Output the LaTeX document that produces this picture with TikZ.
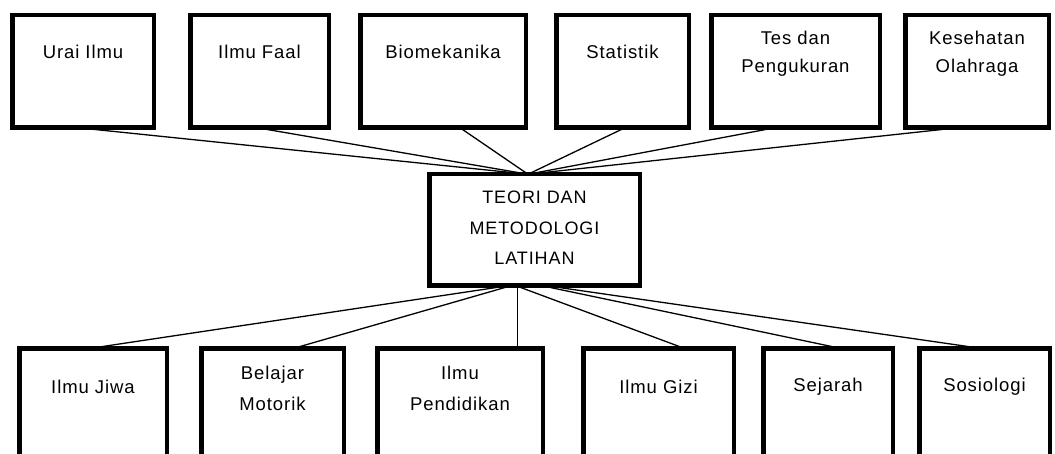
\documentclass[tikz,border=0pt]{standalone}
\usepackage{fontspec}
\setmainfont{Liberation Sans}[LetterSpace=5]
\begin{document}
\begin{tikzpicture}[x=1pt,y=-1pt,
  box/.style={draw=black,line width=4.5pt,rectangle,inner sep=0pt,outer sep=0pt},
  topbox/.style={box,minimum height=112.5pt},
  botbox/.style={box,minimum height=119.5pt},
  lbl/.style={align=center,inner sep=0pt,text=black,font=\fontsize{18.5}{28}\selectfont},
  clbl/.style={lbl,font=\fontsize{18}{30.5}\selectfont},
  blbl/.style={lbl,font=\fontsize{18.5}{31}\selectfont},
  link/.style={draw=black,line width=1.3pt}]
\useasboundingbox (0,0) rectangle (1055,454);
\clip (0,0) rectangle (1055,454);
% top row
\node[topbox,minimum width=141.5pt] (u1) at (83,71.5) {};
\node[topbox,minimum width=138.5pt] (u2) at (259.5,71.5) {};
\node[topbox,minimum width=165.5pt] (u3) at (443,71.5) {};
\node[topbox,minimum width=132.5pt] (u4) at (622.5,71.5) {};
\node[topbox,minimum width=168.5pt] (u5) at (795.5,71.5) {};
\node[topbox,minimum width=143.5pt] (u6) at (977,71.5) {};
\node[lbl] (tu1) at (83,52) {Urai Ilmu};
\node[lbl] (tu2) at (259.5,52) {Ilmu Faal};
\node[lbl] (tu3) at (443,52) {Biomekanika};
\node[lbl] (tu4) at (622.5,52) {Statistik};
\node[lbl] (tu5) at (795.5,54) {Tes dan\\Pengukuran};
\node[lbl] (tu6) at (977,54) {Kesehatan\\Olahraga};
% centre
\node[box,minimum width=210.5pt,minimum height=111.5pt] (c) at (534.5,230) {};
\node[clbl] (tc) at (534.5,228) {TEORI DAN\\METODOLOGI\\LATIHAN};
% bottom row
\node[botbox,minimum width=147.5pt] (b1) at (93,408) {};
\node[botbox,minimum width=142.5pt] (b2) at (272.5,408) {};
\node[botbox,minimum width=165.5pt] (b3) at (460,408) {};
\node[botbox,minimum width=150.5pt] (b4) at (658.5,408) {};
\node[botbox,minimum width=129.5pt] (b5) at (828,408) {};
\node[botbox,minimum width=130.5pt] (b6) at (984.5,408) {};
\node[blbl] (tb1) at (93,387) {Ilmu Jiwa};
\node[blbl] (tb2) at (272.5,388) {Belajar\\Motorik};
\node[blbl] (tb3) at (460,388) {Ilmu\\Pendidikan};
\node[blbl] (tb4) at (658.5,387) {Ilmu Gizi};
\node[blbl] (tb5) at (828,387) {Sejarah};
\node[blbl] (tb6) at (984.5,387) {Sosiologi};
% connectors top
\coordinate (ctop) at ([xshift=-6.5pt]c.north);
\draw[link] ([xshift=-5pt]u1.south) -- (ctop);
\draw[link] ([xshift=-2.5pt]u2.south) -- (ctop);
\draw[link] ([xshift=17pt]u3.south) -- (ctop);
\draw[link] ([xshift=2.5pt]u4.south) -- (ctop);
\draw[link] ([xshift=-20.5pt]u5.south) -- (ctop);
\draw[link] ([xshift=-19pt]u6.south) -- (ctop);
% connectors bottom
\draw[link] ([xshift=-26.5pt]c.south) -- ([xshift=-2pt]b1.north);
\draw[link] ([xshift=-23.5pt]c.south) -- ([xshift=21.5pt]b2.north);
\draw[link] ([xshift=-17pt]c.south) -- ([xshift=57.5pt]b3.north);
\draw[link] ([xshift=-18.5pt]c.south) -- ([xshift=25.5pt]b4.north);
\draw[link] ([xshift=7.5pt]c.south) -- ([xshift=12pt]b5.north);
\draw[link] ([xshift=12.5pt]c.south) -- ([xshift=-4.5pt]b6.north);
\end{tikzpicture}
\end{document}
